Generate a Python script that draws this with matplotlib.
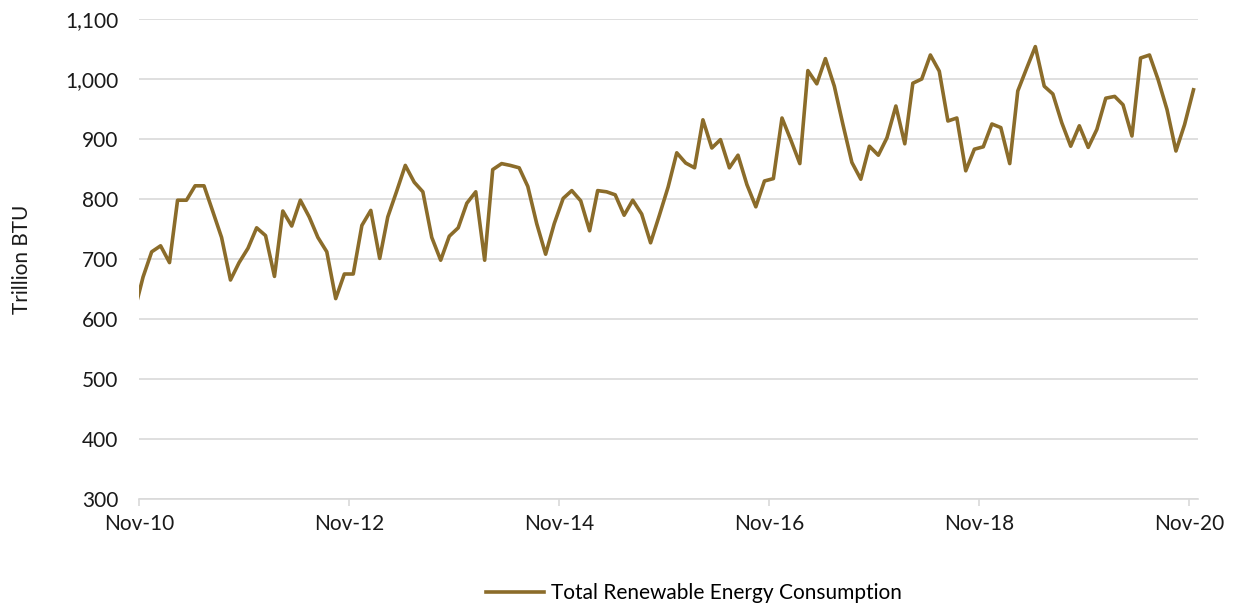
import pandas as pd
import matplotlib.pyplot as plt

plt.rcParams['font.family'] = ['Lato', 'DejaVu Sans']

# Monthly total renewable energy consumption (trillion BTU), Oct-2010 to Nov-2020
consumption = [
    611,
    670, 712, 722, 694, 798, 798, 822, 822, 780, 736, 665,
    694, 718, 752, 739, 671, 780, 755, 798, 770, 736, 712, 634,
    675, 675, 756, 781, 701, 770, 813, 856, 828, 812, 736, 698,
    738, 752, 793, 812, 698, 849, 859, 856, 852, 821, 759, 708,
    759, 801, 814, 797, 747, 814, 812, 807, 773, 798, 775, 727,
    772, 820, 877, 860, 852, 932, 885, 899, 852, 873, 824, 787,
    830, 834, 935, 898, 859, 1014, 992, 1034, 988, 924, 861, 833,
    888, 873, 902, 955, 892, 993, 1000, 1040, 1013, 930, 935, 847,
    883, 887, 925, 919, 859, 980, 1018, 1054, 988, 975, 927, 888,
    922, 886, 916, 968, 971, 957, 905, 1035, 1040, 999, 949, 880,
    924, 982,
]
# each month is plotted mid-month
months = pd.date_range("2010-10-01", periods=len(consumption), freq="MS") + pd.Timedelta(days=14)
tick_dates = pd.date_range("2010-11-01", "2020-11-01", freq="24MS")
tick_labels = ["Nov-10", "Nov-12", "Nov-14", "Nov-16", "Nov-18", "Nov-20"]

fig = plt.figure(figsize=(12.48, 6.09), dpi=100)
ax = fig.add_axes([0.1114, 0.1806, 0.8486, 0.7882])

ax.plot(months, consumption, color="#8B6C2A", linewidth=2.6,
        label="Total Renewable Energy Consumption")

ax.set_ylim(300, 1100)
ax.set_yticks(range(300, 1101, 100))
ax.set_yticklabels([f"{v:,}" for v in range(300, 1101, 100)])
ax.set_xlim(pd.Timestamp("2010-11-01"), pd.Timestamp("2020-12-01"))
ax.set_xticks(tick_dates)
ax.set_xticklabels(tick_labels)

ax.grid(axis="y", color="#d9d9d9", linewidth=1.2)
ax.set_axisbelow(True)
for side in ["left", "right", "top"]:
    ax.spines[side].set_visible(False)
ax.spines["bottom"].set_color("#d9d9d9")
ax.spines["bottom"].set_linewidth(1.2)

ax.tick_params(axis="y", length=0, pad=15, labelsize=15, labelcolor="#1a1a1a")
ax.tick_params(axis="x", length=5, width=1.2, color="#d9d9d9", pad=6,
               labelsize=15, labelcolor="#1a1a1a")

ax.set_ylabel("Trillion BTU", fontsize=15, color="#1a1a1a", labelpad=24)

fig.legend(loc="center", bbox_to_anchor=(0.556, 0.026), frameon=False,
           fontsize=15, handlelength=2.8, handletextpad=0.35)

fig.savefig("out.png", dpi=100)
